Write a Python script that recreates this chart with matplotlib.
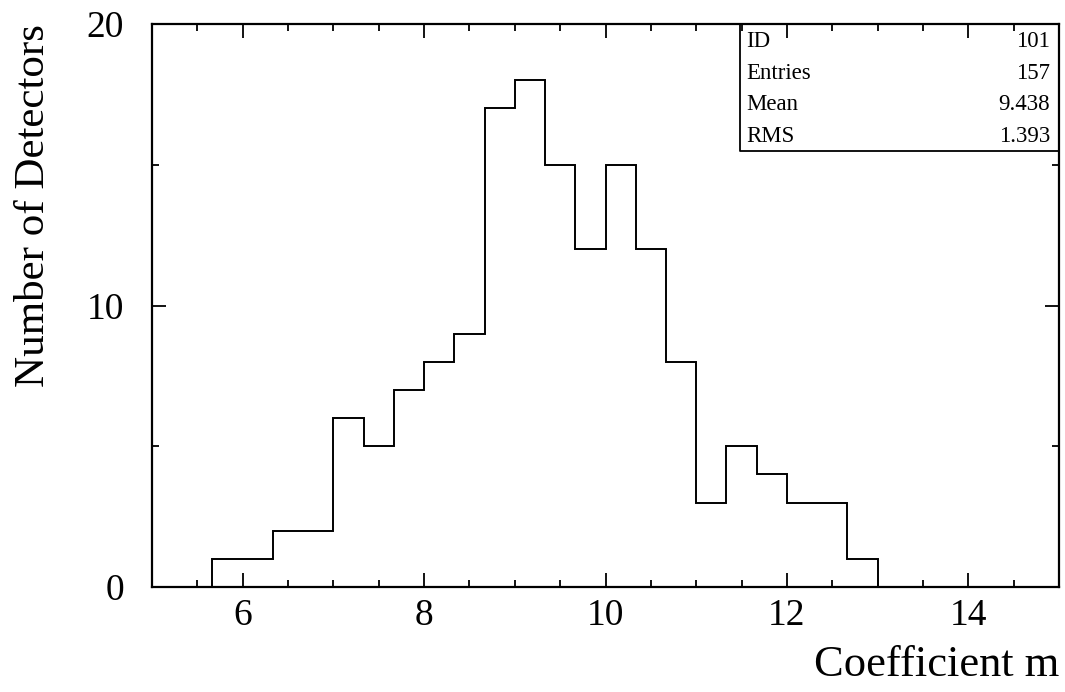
import numpy as np
import matplotlib
matplotlib.use("Agg")
import matplotlib.pyplot as plt
from matplotlib.ticker import MultipleLocator

bin_edges = [5 + 2/3 + i/3 for i in range(23)]
counts = [1, 1, 2, 2, 6, 5, 7, 8, 9, 17, 18, 15, 12, 15, 12, 8, 3, 5, 4, 3, 3, 1]
stats_labels = ["ID", "Entries", "Mean", "RMS"]
stats_values = ["101", "157", "9.438", "1.393"]

plt.rcParams['font.family'] = ['Liberation Serif', 'DejaVu Serif']

fig = plt.figure(figsize=(10.65, 6.92), dpi=100)
ax = fig.add_axes([0.1427, 0.1517, 0.9944 - 0.1427, 0.9653 - 0.1517])

ax.stairs(counts, bin_edges, color='black', linewidth=1.4)
ax.set_xlim(5, 15)
ax.set_ylim(0, 20)

ax.xaxis.set_major_locator(MultipleLocator(2))
ax.xaxis.set_minor_locator(MultipleLocator(0.5))
ax.yaxis.set_major_locator(MultipleLocator(10))
ax.yaxis.set_minor_locator(MultipleLocator(5))
ax.tick_params(which='both', direction='in', top=True, right=True, width=1.3, labelsize=27, pad=8)
ax.tick_params(which='major', length=10)
ax.tick_params(which='minor', length=5)
ax.tick_params(axis='y', pad=20)
for s in ax.spines.values():
    s.set_linewidth(1.6)

ax.set_xlabel("Coefficient m", fontsize=32, loc='right', labelpad=9)
ax.set_ylabel("Number of Detectors", fontsize=31, loc='top', labelpad=24)

# stats box
bx0, by0 = 0.648, 0.775
ax.plot([bx0, bx0, 1.0], [1.0, by0, by0], transform=ax.transAxes, color='black', lw=1.3, clip_on=False)
n = len(stats_labels)
for i, (lab, val) in enumerate(zip(stats_labels, stats_values)):
    yy = 1.0 - (i + 0.55) * (1.0 - by0) / n
    ax.text(bx0 + 0.007, yy, lab, transform=ax.transAxes, fontsize=16.5, va='center', ha='left')
    ax.text(0.99, yy, val, transform=ax.transAxes, fontsize=16.5, va='center', ha='right')

fig.savefig("out.png", dpi=100)
